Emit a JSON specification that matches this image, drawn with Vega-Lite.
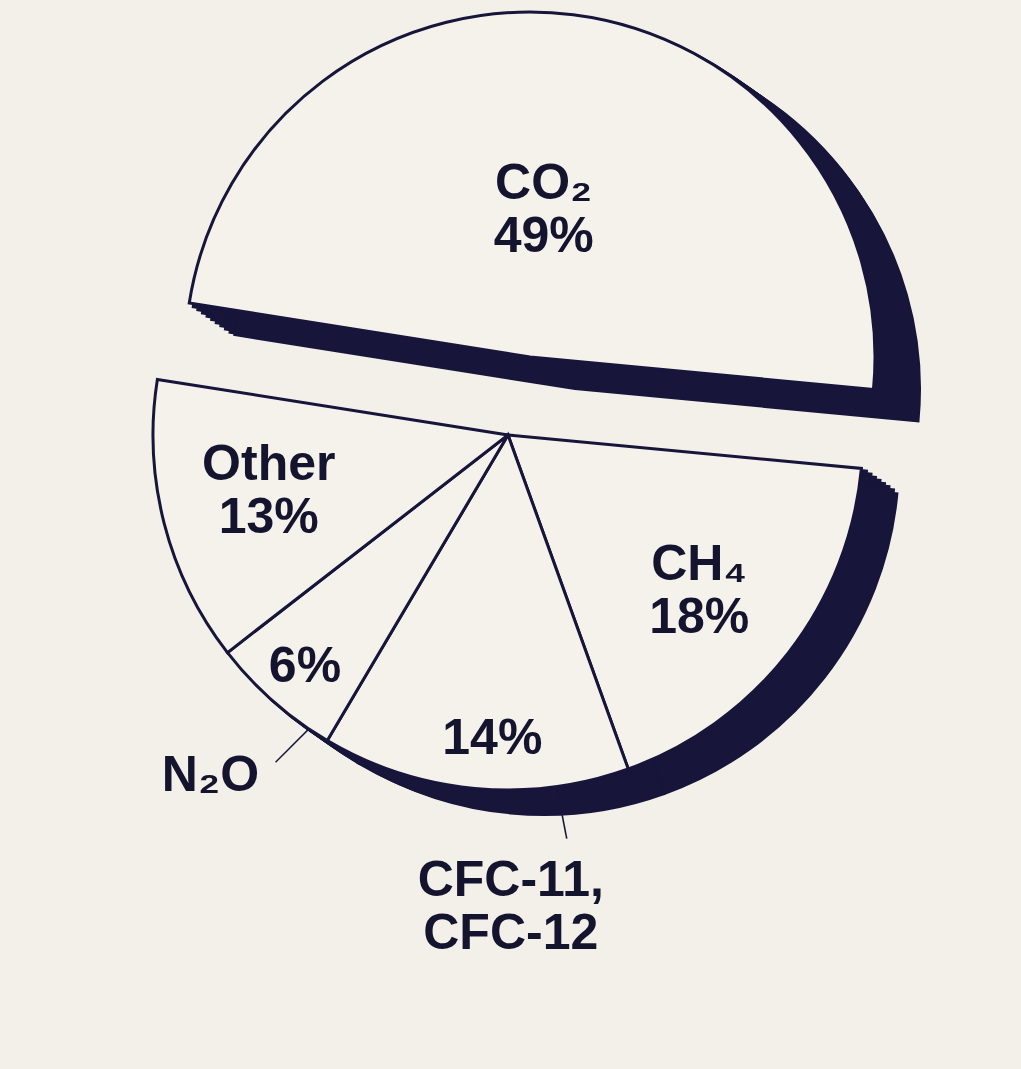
{
  "$schema": "https://vega.github.io/schema/vega-lite/v6.json",
  "width": 1016,
  "height": 870,
  "autosize": "none",
  "padding": {"left": 0, "top": 0, "right": 5, "bottom": 199},
  "background": "#f3f0e9",
  "config": {"view": {"stroke": null}},
  "data": {
    "values": [
      {"rank": 1, "gas": "CO2", "value": 49, "label": "CO₂\n49%", "outer": ""},
      {"rank": 2, "gas": "CH4", "value": 18, "label": "CH₄\n18%", "outer": ""},
      {"rank": 3, "gas": "CFC", "value": 14, "label": "14%", "outer": "CFC-11,\nCFC-12"},
      {"rank": 4, "gas": "N2O", "value": 6, "label": "6%", "outer": "N₂O"},
      {"rank": 5, "gas": "Other", "value": 13, "label": "Other\n13%", "outer": ""}
    ]
  },
  "encoding": {
    "theta": {"field": "value", "type": "quantitative", "stack": true, "scale": {"range": [-1.413717, 4.869468]}},
    "order": {"field": "rank", "type": "quantitative"}
  },
  "layer": [
    {"mark": {"type": "arc", "outerRadius": 355, "fill": "#17153a", "stroke": "#17153a", "strokeWidth": 4, "xOffset": 4.5, "yOffset": 3.1},
     "encoding": {"opacity": {"condition": {"test": "datum.gas !== 'CO2'", "value": 1}, "value": 0}}},
    {"mark": {"type": "arc", "outerRadius": 355, "fill": "#17153a", "stroke": "#17153a", "strokeWidth": 4, "xOffset": 9, "yOffset": 6.25},
     "encoding": {"opacity": {"condition": {"test": "datum.gas !== 'CO2'", "value": 1}, "value": 0}}},
    {"mark": {"type": "arc", "outerRadius": 355, "fill": "#17153a", "stroke": "#17153a", "strokeWidth": 4, "xOffset": 13.5, "yOffset": 9.4},
     "encoding": {"opacity": {"condition": {"test": "datum.gas !== 'CO2'", "value": 1}, "value": 0}}},
    {"mark": {"type": "arc", "outerRadius": 355, "fill": "#17153a", "stroke": "#17153a", "strokeWidth": 4, "xOffset": 18, "yOffset": 12.5},
     "encoding": {"opacity": {"condition": {"test": "datum.gas !== 'CO2'", "value": 1}, "value": 0}}},
    {"mark": {"type": "arc", "outerRadius": 355, "fill": "#17153a", "stroke": "#17153a", "strokeWidth": 4, "xOffset": 22.5, "yOffset": 15.6},
     "encoding": {"opacity": {"condition": {"test": "datum.gas !== 'CO2'", "value": 1}, "value": 0}}},
    {"mark": {"type": "arc", "outerRadius": 355, "fill": "#17153a", "stroke": "#17153a", "strokeWidth": 4, "xOffset": 27, "yOffset": 18.75},
     "encoding": {"opacity": {"condition": {"test": "datum.gas !== 'CO2'", "value": 1}, "value": 0}}},
    {"mark": {"type": "arc", "outerRadius": 355, "fill": "#17153a", "stroke": "#17153a", "strokeWidth": 4, "xOffset": 31.5, "yOffset": 21.9},
     "encoding": {"opacity": {"condition": {"test": "datum.gas !== 'CO2'", "value": 1}, "value": 0}}},
    {"mark": {"type": "arc", "outerRadius": 355, "fill": "#17153a", "stroke": "#17153a", "strokeWidth": 2, "xOffset": 36, "yOffset": 25},
     "encoding": {"opacity": {"condition": {"test": "datum.gas !== 'CO2'", "value": 1}, "value": 0}}},
    {"mark": {"type": "arc", "outerRadius": 345, "fill": "#17153a", "stroke": "#17153a", "strokeWidth": 4, "xOffset": 26.6, "yOffset": -74.8},
     "encoding": {"opacity": {"condition": {"test": "datum.gas === 'CO2'", "value": 1}, "value": 0}}},
    {"mark": {"type": "arc", "outerRadius": 345, "fill": "#17153a", "stroke": "#17153a", "strokeWidth": 4, "xOffset": 31.2, "yOffset": -71.6},
     "encoding": {"opacity": {"condition": {"test": "datum.gas === 'CO2'", "value": 1}, "value": 0}}},
    {"mark": {"type": "arc", "outerRadius": 345, "fill": "#17153a", "stroke": "#17153a", "strokeWidth": 4, "xOffset": 35.8, "yOffset": -68.4},
     "encoding": {"opacity": {"condition": {"test": "datum.gas === 'CO2'", "value": 1}, "value": 0}}},
    {"mark": {"type": "arc", "outerRadius": 345, "fill": "#17153a", "stroke": "#17153a", "strokeWidth": 4, "xOffset": 40.4, "yOffset": -65.2},
     "encoding": {"opacity": {"condition": {"test": "datum.gas === 'CO2'", "value": 1}, "value": 0}}},
    {"mark": {"type": "arc", "outerRadius": 345, "fill": "#17153a", "stroke": "#17153a", "strokeWidth": 4, "xOffset": 45, "yOffset": -62},
     "encoding": {"opacity": {"condition": {"test": "datum.gas === 'CO2'", "value": 1}, "value": 0}}},
    {"mark": {"type": "arc", "outerRadius": 345, "fill": "#17153a", "stroke": "#17153a", "strokeWidth": 4, "xOffset": 49.6, "yOffset": -58.8},
     "encoding": {"opacity": {"condition": {"test": "datum.gas === 'CO2'", "value": 1}, "value": 0}}},
    {"mark": {"type": "arc", "outerRadius": 345, "fill": "#17153a", "stroke": "#17153a", "strokeWidth": 4, "xOffset": 54.2, "yOffset": -55.6},
     "encoding": {"opacity": {"condition": {"test": "datum.gas === 'CO2'", "value": 1}, "value": 0}}},
    {"mark": {"type": "arc", "outerRadius": 345, "fill": "#17153a", "stroke": "#17153a", "strokeWidth": 4, "xOffset": 58.8, "yOffset": -52.4},
     "encoding": {"opacity": {"condition": {"test": "datum.gas === 'CO2'", "value": 1}, "value": 0}}},
    {"mark": {"type": "arc", "outerRadius": 345, "fill": "#17153a", "stroke": "#17153a", "strokeWidth": 4, "xOffset": 63.4, "yOffset": -49.2},
     "encoding": {"opacity": {"condition": {"test": "datum.gas === 'CO2'", "value": 1}, "value": 0}}},
    {"mark": {"type": "arc", "outerRadius": 345, "fill": "#17153a", "stroke": "#17153a", "strokeWidth": 2, "xOffset": 67, "yOffset": -46},
     "encoding": {"opacity": {"condition": {"test": "datum.gas === 'CO2'", "value": 1}, "value": 0}}},
    {"mark": {"type": "arc", "outerRadius": 355, "fill": "#f5f2ec", "stroke": "#17153a", "strokeWidth": 3},
     "encoding": {"opacity": {"condition": {"test": "datum.gas !== 'CO2'", "value": 1}, "value": 0}}},
    {"mark": {"type": "arc", "outerRadius": 345, "fill": "#f5f2ec", "stroke": "#17153a", "strokeWidth": 3, "xOffset": 22, "yOffset": -78},
     "encoding": {"opacity": {"condition": {"test": "datum.gas === 'CO2'", "value": 1}, "value": 0}}},
    {"mark": {"type": "text", "radius": 377, "xOffset": 34, "yOffset": 27, "angle": 45, "font": "Roboto", "fontWeight": 100, "fontSize": 56, "align": "center", "baseline": "middle", "fill": "#17153a"},
     "encoding": {"text": {"condition": {"test": "datum.gas === 'N2O'", "value": "|"}, "value": ""}}},
    {"mark": {"type": "text", "radius": 386, "xOffset": 90, "yOffset": -6, "angle": -11, "font": "Roboto", "fontWeight": 100, "fontSize": 60, "align": "center", "baseline": "middle", "fill": "#17153a"},
     "encoding": {"text": {"condition": {"test": "datum.gas === 'CFC'", "value": "|"}, "value": ""}}},
    {"mark": {"type": "text", "radius": 247, "dy": -31, "font": "Liberation Sans", "fontWeight": "bold", "fontSize": 50, "lineHeight": 53, "lineBreak": "\n", "align": "center", "baseline": "middle", "fill": "#15142e"},
     "encoding": {"text": {"condition": {"test": "datum.gas === 'Other'", "field": "label"}, "value": ""}}},
    {"mark": {"type": "text", "radius": 247, "dx": -4, "dy": -21, "font": "Liberation Sans", "fontWeight": "bold", "fontSize": 50, "lineHeight": 53, "lineBreak": "\n", "align": "center", "baseline": "middle", "fill": "#15142e"},
     "encoding": {"text": {"condition": {"test": "datum.gas === 'CH4'", "field": "label"}, "value": ""}}},
    {"mark": {"type": "text", "radius": 307, "dy": 2, "font": "Liberation Sans", "fontWeight": "bold", "fontSize": 50, "align": "center", "baseline": "middle", "fill": "#15142e"},
     "encoding": {"text": {"condition": {"test": "datum.gas === 'N2O'", "field": "label"}, "value": ""}}},
    {"mark": {"type": "text", "radius": 305, "dx": 13, "font": "Liberation Sans", "fontWeight": "bold", "fontSize": 50, "align": "center", "baseline": "middle", "fill": "#15142e"},
     "encoding": {"text": {"condition": {"test": "datum.gas === 'CFC'", "field": "label"}, "value": ""}}},
    {"mark": {"type": "text", "radius": 149, "xOffset": 22, "yOffset": -78, "dx": -5, "dy": -25, "font": "Liberation Sans", "fontWeight": "bold", "fontSize": 50, "lineHeight": 53, "lineBreak": "\n", "align": "center", "baseline": "middle", "fill": "#15142e"},
     "encoding": {"text": {"condition": {"test": "datum.gas === 'CO2'", "field": "label"}, "value": ""}}},
    {"mark": {"type": "text", "radius": 450, "dy": 3, "font": "Liberation Sans", "fontWeight": "bold", "fontSize": 50, "align": "center", "baseline": "middle", "fill": "#15142e"},
     "encoding": {"text": {"condition": {"test": "datum.gas === 'N2O'", "field": "outer"}, "value": ""}}},
    {"mark": {"type": "text", "radius": 470, "dx": 47, "dy": -22, "font": "Liberation Sans", "fontWeight": "bold", "fontSize": 50, "lineHeight": 53, "lineBreak": "\n", "align": "center", "baseline": "middle", "fill": "#15142e"},
     "encoding": {"text": {"condition": {"test": "datum.gas === 'CFC'", "field": "outer"}, "value": ""}}}
  ]
}
